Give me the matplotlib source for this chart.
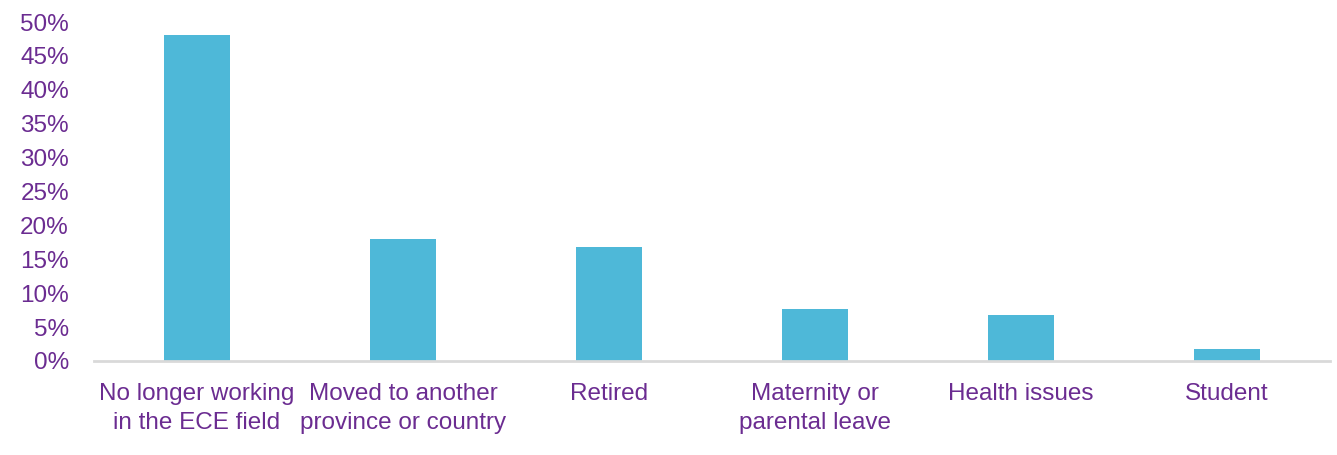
import matplotlib.pyplot as plt
from matplotlib.ticker import PercentFormatter

categorias = ['No longer working\nin the ECE field', 'Moved to another\nprovince or country',
              'Retired', 'Maternity or\nparental leave', 'Health issues', 'Student']
valores = [48.1, 18.0, 16.8, 7.7, 6.8, 1.8]
ticks_y = [0, 5, 10, 15, 20, 25, 30, 35, 40, 45, 50]

roxo = '#6B2C91'
azul = '#4EB8D8'

plt.rcParams['font.family'] = ['Liberation Sans', 'DejaVu Sans']

fig = plt.figure(figsize=(13.37, 4.55), dpi=100)
ax = fig.add_axes([0.0703, 0.2066, 0.9245, 0.745])

x = range(len(categorias))
ax.bar(x, valores, width=0.32, color=azul, zorder=2)

ax.set_xlim(-0.5, len(categorias) - 0.5)
ax.set_ylim(0, 50)
ax.set_yticks(ticks_y)
ax.yaxis.set_major_formatter(PercentFormatter(decimals=0))
ax.set_xticks(list(x))
ax.set_xticklabels(categorias, linespacing=1.4)

for s in ['top', 'right', 'left']:
    ax.spines[s].set_visible(False)
ax.spines['bottom'].set_color('#D9D9D9')
ax.spines['bottom'].set_linewidth(2)

ax.tick_params(axis='y', length=0, pad=18, labelsize=17.5, labelcolor=roxo)
ax.tick_params(axis='x', length=0, pad=16, labelsize=17.5, labelcolor=roxo)

fig.savefig('out.png', dpi=100)
